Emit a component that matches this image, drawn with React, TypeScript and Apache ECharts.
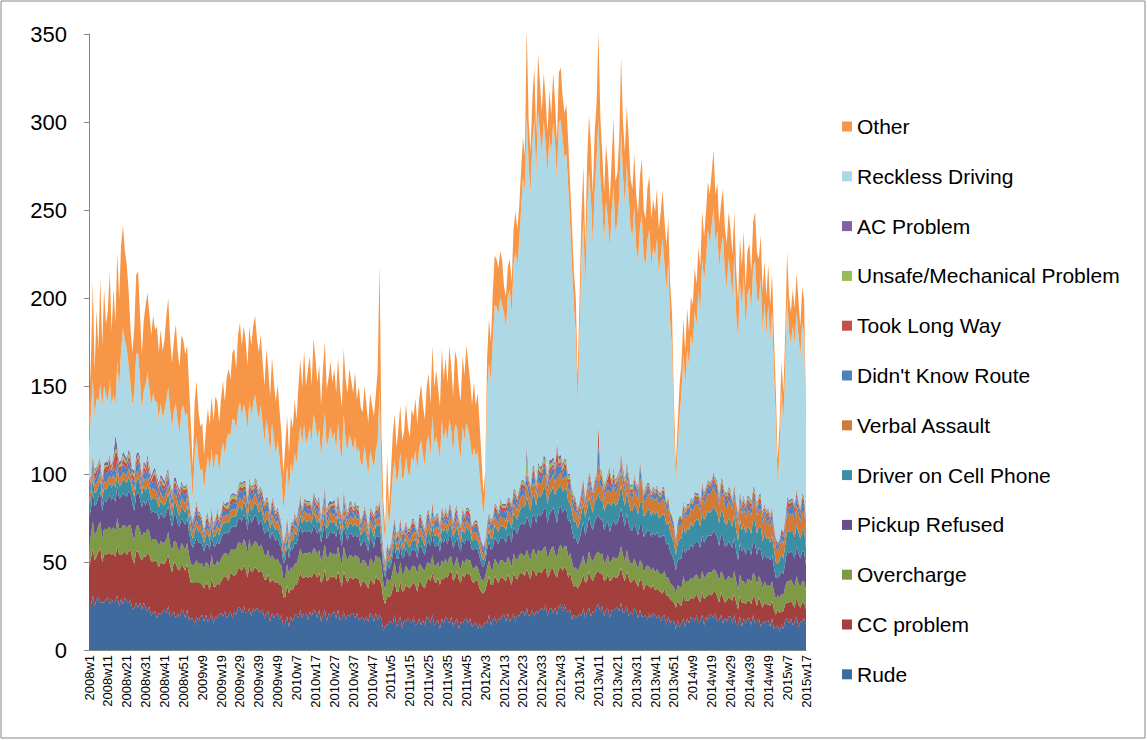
import React, { useEffect, useRef } from "react";
import * as echarts from "echarts";

// Week labels 2008w1 .. 2015w17 (52 weeks per year, as on the axis)
function buildWeeks(): string[] {
  const out: string[] = [];
  for (let y = 2008; y <= 2015; y++) {
    const last = y === 2015 ? 17 : 52;
    for (let w = 1; w <= last; w++) out.push(`${y}w${w}`);
  }
  return out;
}
const weeks = buildWeeks();

const rude = [
  24,25,31,25,29,30,27,27,27,29, 30,26,29,27,28,31,25,29,26,30, 28,26,29,23,24,27,24,27,23,27,
  24,22,25,19,22,22,18,21,20,22, 23,21,25,19,20,22,18,21,18,23, 22,18,23,17,18,18,14,19,16,19,
  20,16,20,16,18,21,15,19,18,20, 21,19,22,18,20,22,18,22,20,24, 24,21,25,21,21,24,19,24,22,24,
  23,21,23,18,21,22,16,21,18,20, 21,17,20,13,16,19,13,19,16,20, 20,18,23,18,21,21,17,22,19,23,
  22,18,23,16,20,23,16,21,19,21, 22,18,23,17,18,22,17,20,19,21, 21,18,21,17,18,19,16,19,16,21,
  20,16,21,17,20,18,11,14,14,16, 16,15,20,13,16,19,12,17,16,18, 17,15,19,14,15,18,14,17,14,19,
  18,15,20,14,16,17,12,18,15,19, 17,15,19,13,16,18,12,16,15,17, 18,15,18,13,15,16,12,15,12,14,
  16,15,20,14,17,19,15,18,17,20, 20,16,21,16,18,21,16,20,19,22, 22,19,24,19,20,23,19,22,21,23,
  24,22,26,19,23,24,21,24,20,25, 26,22,26,22,22,23,17,20,18,19, 21,19,24,18,22,24,19,22,21,25,
  26,22,25,19,23,24,18,23,22,24, 24,22,27,21,22,25,19,22,20,24, 22,18,23,19,19,20,17,21,18,21,
  20,18,20,16,19,20,14,19,15,17, 17,12,17,13,15,18,13,18,15,19, 18,16,20,15,17,20,14,19,17,20,
  20,18,21,16,17,20,15,18,16,19, 19,15,20,14,15,19,13,18,15,18, 18,14,20,15,16,18,13,16,15,17,
  17,13,18,12,13,14,10,15,12,17, 18,15,18,14,16,19,13,16,16,18,14
];
const ccProblem = [
  23,27,27,26,24,26,31,23,27,25, 25,29,25,28,25,28,29,25,29,26, 26,30,28,29,25,29,32,26,28,26,
  29,33,29,31,28,29,32,26,30,27, 26,30,29,29,24,28,31,25,27,26, 25,27,26,26,20,20,24,20,22,19,
  17,19,18,21,16,20,21,17,20,17, 18,22,20,23,19,22,25,20,23,22, 22,24,23,25,20,24,25,21,25,22,
  21,24,21,22,19,21,22,19,21,18, 18,20,17,17,14,18,19,16,18,17, 17,22,21,23,20,21,24,20,22,21,
  21,23,21,22,20,23,23,19,23,20, 20,22,22,23,18,23,24,18,22,20, 19,23,20,23,18,20,23,18,19,19,
  19,21,21,23,20,19,18,12,17,14, 15,20,19,20,17,20,21,17,21,18, 18,22,19,23,18,21,24,19,21,20,
  23,24,24,25,22,24,25,23,25,23, 24,29,26,26,25,27,28,22,28,24, 26,28,25,26,23,24,27,20,21,18,
  18,23,22,23,20,23,25,20,24,21, 20,23,22,24,19,23,25,20,24,22, 21,23,22,24,20,23,26,20,24,21,
  20,24,21,22,20,22,25,19,21,21, 21,23,21,24,19,21,22,16,19,16, 16,20,19,20,17,21,22,17,21,19,
  19,21,19,20,17,19,21,17,20,17, 17,21,20,21,17,20,22,16,19,17, 16,18,17,20,15,17,20,15,17,16,
  14,17,14,17,13,15,17,12,14,11, 10,12,11,13,10,13,15,10,13,11, 11,14,12,14,10,13,15,11,14,12,
  11,15,12,14,10,13,15,9,12,11, 10,13,12,13,8,12,14,9,11,10, 10,12,11,14,9,12,14,8,12,9,
  9,12,10,11,7,9,11,7,10,9, 9,12,10,12,8,11,13,8,11,9,9
];
const overcharge = [
  12,13,15,14,14,15,15,13,15,14, 14,15,14,15,14,16,15,15,16,15, 15,15,14,14,13,14,15,15,13,14,
  13,14,13,12,13,12,12,12,12,12, 12,12,13,12,12,12,13,12,11,12, 12,12,12,11,11,10,11,12,11,11,
  12,11,12,12,12,13,12,12,13,12, 13,13,13,14,14,13,14,15,14,15, 15,14,15,15,14,15,14,15,15,15,
  14,15,14,14,14,14,13,14,13,13, 13,12,11,10,11,12,11,12,12,12, 12,13,14,13,14,13,14,14,13,14,
  14,13,13,12,14,14,13,13,14,13, 13,13,14,13,12,14,13,13,13,13, 12,13,12,13,12,12,12,12,11,12,
  12,11,12,12,13,11,9,8,10,9, 9,10,11,10,10,11,10,10,11,10, 9,10,10,10,10,10,10,10,10,10,
  9,9,10,9,10,9,9,10,9,10, 8,9,8,8,8,8,8,8,8,8, 8,8,8,8,8,8,8,8,7,7,
  8,9,9,9,9,10,10,10,10,10, 10,10,10,11,10,11,11,11,11,11, 11,11,11,11,11,11,12,11,12,12,
  12,12,12,11,12,12,13,12,11,12, 13,12,12,13,12,11,11,10,10,10, 10,11,11,10,11,11,11,11,11,11,
  11,11,11,10,11,11,10,11,11,11, 11,11,12,12,11,12,11,11,10,11, 11,10,11,11,10,10,11,11,10,10,
  10,11,10,10,11,10,10,10,9,9, 9,8,9,10,10,11,10,11,11,11, 11,12,11,12,12,12,12,12,13,12,
  13,13,12,13,12,12,13,12,12,12, 12,12,13,12,11,12,12,12,11,12, 12,12,13,13,12,12,13,11,12,11,
  11,11,11,10,9,8,9,10,9,10, 12,12,12,12,12,12,12,12,12,12,11
];
const pickupRefused = [
  16,15,17,17,16,16,17,16,16,16, 17,18,17,18,17,18,17,18,18,17, 18,19,18,17,17,18,19,18,17,18,
  16,17,16,16,16,15,16,15,16,15, 14,15,15,15,14,14,15,14,14,14, 14,14,14,13,12,10,12,13,12,12,
  11,10,10,11,11,11,11,11,11,11, 11,12,11,12,13,12,13,13,13,13, 14,14,14,14,13,14,14,14,15,14,
  13,14,13,12,13,12,12,13,12,11, 12,11,10,9,10,11,9,11,11,12, 11,12,12,12,13,12,12,12,12,13,
  12,12,12,11,12,13,11,12,12,12, 12,11,12,12,11,12,12,11,12,12, 12,12,11,12,11,10,12,11,10,12,
  11,10,11,12,12,10,8,7,8,7, 8,9,9,9,9,9,9,9,10,9, 9,10,9,10,9,10,11,10,9,11,
  12,11,12,11,11,11,10,12,12,12, 11,12,11,11,12,11,11,10,12,11, 12,11,11,10,11,10,10,10,9,8,
  8,10,11,11,12,12,12,12,13,12, 13,12,13,14,14,15,16,15,16,17, 18,18,19,19,18,19,20,19,21,20,
  21,22,22,20,22,21,22,22,20,22, 22,21,21,21,20,19,18,17,17,15, 16,18,19,17,19,20,19,18,20,20,
  21,20,20,19,20,19,18,20,21,19, 20,21,22,21,20,21,20,19,19,20, 20,19,20,21,20,19,20,21,19,20,
  21,21,20,21,22,20,19,20,18,17, 15,13,14,16,17,18,17,18,18,19, 18,19,19,20,19,20,20,21,21,21,
  21,22,21,21,20,21,21,20,19,20, 19,18,19,17,17,18,17,19,17,18, 17,16,18,18,17,16,17,16,16,15,
  16,15,15,14,12,10,12,13,12,14, 17,16,16,17,16,17,17,16,17,17,14
];
const cellPhone = [
  7,7,8,7,7,6,7,7,7,7, 7,7,7,8,8,7,7,7,8,8, 8,8,7,8,8,7,8,8,7,8,
  8,8,7,7,8,8,7,7,7,7, 7,7,7,7,6,7,7,7,6,7, 7,7,7,7,6,5,6,6,6,6,
  5,5,5,6,5,6,5,6,6,5, 6,6,6,6,6,6,6,6,6,6, 7,6,7,7,6,7,7,7,7,7,
  7,7,6,6,7,6,6,6,6,6, 6,6,5,4,5,5,5,5,5,6, 5,6,6,6,7,6,6,6,6,7,
  6,6,6,6,6,6,6,6,6,6, 6,6,6,6,6,6,6,6,6,6, 6,6,6,6,6,6,6,6,6,6,
  6,6,6,6,7,5,4,3,4,4, 4,5,5,5,5,5,5,5,5,5, 5,5,5,6,5,5,6,6,5,6,
  6,5,6,6,6,5,5,6,6,6, 6,6,6,6,6,6,6,5,6,6, 6,6,6,5,6,5,5,5,4,4,
  4,6,6,6,6,7,7,7,7,7, 7,7,8,8,8,8,8,8,8,9, 10,10,11,10,10,11,11,10,11,11,
  11,12,11,11,12,11,12,11,19,12, 12,12,11,12,11,10,10,10,9,9, 9,10,10,10,11,11,11,10,11,11,
  12,11,11,11,11,11,16,11,12,11, 11,12,13,12,12,12,12,11,11,11, 12,12,13,13,12,11,12,12,12,12,
  12,12,11,12,12,12,11,12,11,10, 10,9,10,11,11,11,11,12,11,12, 12,12,12,13,12,13,13,13,14,13,
  14,14,13,14,13,13,14,13,12,13, 13,12,13,12,11,13,12,13,12,12, 12,12,13,13,12,12,13,11,12,11,
  11,10,11,10,9,8,9,10,9,10, 12,12,11,12,12,12,12,11,12,12,10
];
const verbalAssault = [
  4,4,4,4,5,4,4,4,4,4, 4,4,5,4,4,4,5,4,4,4, 4,5,4,3,4,5,4,4,3,5,
  5,5,5,5,5,5,5,4,5,4, 5,5,5,5,5,5,5,5,5,5, 5,5,5,5,4,4,4,4,4,4,
  3,3,3,3,3,3,3,3,3,3, 3,4,4,4,4,4,4,4,4,4, 5,5,4,5,5,4,5,5,5,4,
  4,5,3,4,5,4,3,4,5,4, 4,4,4,3,4,4,3,4,4,4, 4,5,4,3,4,5,4,4,3,5,
  4,3,5,4,4,5,3,4,5,4, 5,4,4,3,4,5,4,4,3,4, 4,5,4,4,3,4,5,4,3,4,
  4,4,4,4,4,4,3,3,3,3, 3,4,4,3,4,4,3,4,4,4, 4,3,5,4,4,5,4,3,4,5,
  5,4,4,3,5,4,4,5,4,3, 4,5,4,3,4,5,4,4,5,3, 4,4,4,4,4,4,4,4,4,3,
  3,4,4,4,5,5,5,5,5,5, 5,5,5,5,5,5,6,5,6,6, 6,6,7,6,6,7,7,6,7,7,
  7,7,7,7,7,7,7,7,7,7, 7,7,7,7,7,7,6,6,6,6, 6,6,7,6,7,7,7,6,7,7,
  16,8,7,7,8,7,7,7,8,7, 8,8,8,8,8,8,8,8,7,8, 8,8,14,9,8,8,8,9,8,8,
  8,8,8,8,9,8,8,8,8,8, 7,6,7,8,8,8,8,8,8,9, 9,9,9,9,9,10,9,10,10,10,
  11,11,10,10,10,10,10,10,10,10, 10,10,10,9,9,10,9,10,9,10, 10,10,10,11,10,10,10,10,10,9,
  10,9,9,9,8,7,8,8,8,9, 11,10,10,11,10,11,11,10,11,11,10
];
const didntKnowRoute = [
  4,3,5,3,4,5,3,4,4,5, 4,5,3,5,5,4,3,4,5,4, 4,5,4,3,4,5,5,4,3,4,
  4,5,3,4,4,5,3,4,5,4, 4,3,5,4,4,3,4,5,4,4, 4,5,3,4,4,3,4,5,4,3,
  3,2,4,3,3,4,2,3,4,3, 3,4,3,2,3,4,3,4,3,4, 4,5,3,4,4,5,4,3,4,5,
  4,3,5,4,4,3,3,5,4,3, 3,4,2,3,3,4,3,2,3,4, 3,2,4,3,3,4,3,2,4,3,
  3,4,3,2,3,4,3,3,2,4, 3,3,4,2,3,4,3,2,3,4, 3,4,3,2,3,3,4,3,2,3,
  3,4,3,3,4,3,2,2,3,2, 2,3,4,3,2,3,4,3,3,2, 3,4,3,2,3,4,3,3,2,4,
  3,2,4,3,3,4,3,4,2,3, 3,4,3,2,4,3,3,2,4,3, 3,4,3,2,3,3,4,3,2,3,
  3,2,3,4,3,3,4,3,4,4, 4,5,3,4,4,5,4,3,4,5, 4,3,5,4,4,5,4,3,5,4,
  4,5,4,3,4,5,4,4,9,5, 4,3,5,4,4,3,3,4,3,2, 3,4,3,2,3,4,3,3,2,4,
  11,4,3,3,2,4,3,3,4,3, 3,2,4,3,3,4,3,2,3,4, 3,4,7,2,3,4,3,3,2,3,
  3,3,4,2,3,4,3,3,2,3, 3,2,3,4,3,3,2,3,4,3, 3,4,3,2,3,4,3,3,4,3,
  3,4,3,3,2,4,3,3,4,3, 3,2,4,3,3,4,3,2,3,4, 3,4,3,2,3,4,3,3,2,3,
  3,3,4,2,3,3,2,3,4,3, 4,3,5,4,4,5,3,4,5,4,4
];
const tookLongWay = [
  3,2,3,4,3,2,3,2,3,4, 3,4,2,3,11,4,3,2,3,3, 3,2,4,3,3,2,3,4,3,3,
  3,4,3,2,3,4,3,3,2,3, 2,3,2,1,2,3,2,2,3,2, 2,3,2,2,1,2,2,3,2,2,
  2,1,2,3,2,2,1,2,3,2, 2,3,2,1,2,2,3,2,2,2, 2,3,2,2,1,2,3,2,2,2,
  2,2,3,2,1,2,2,3,2,2, 2,1,2,1,1,2,1,1,2,1, 1,2,2,1,2,1,2,3,1,2,
  2,3,2,1,2,2,3,2,1,2, 2,1,2,3,2,2,1,2,3,2, 2,2,3,2,1,1,2,3,1,2,
  2,3,2,2,3,1,1,1,1,1, 2,1,2,1,2,3,1,2,2,1, 2,3,2,1,2,2,3,2,2,1,
  2,2,3,2,1,2,2,3,2,2, 2,1,2,2,3,2,1,2,2,3, 2,3,2,2,1,2,1,1,2,1,
  1,2,2,1,2,3,2,2,3,2, 2,3,2,2,3,2,2,3,2,2, 2,3,2,3,2,2,3,2,2,3,
  2,3,2,2,3,2,2,3,8,2, 2,2,3,2,2,3,2,2,2,2, 2,2,3,2,2,2,3,2,2,2,
  11,3,2,2,2,3,8,2,3,2, 2,2,3,2,2,2,3,2,2,2, 1,2,2,2,1,1,2,1,2,1,
  1,2,1,1,2,1,1,2,1,1, 1,1,2,1,1,1,2,1,1,1, 1,2,1,2,2,2,2,2,2,2,
  2,2,3,2,2,2,2,3,2,2, 2,2,2,3,2,2,2,2,3,2, 2,3,2,2,2,2,3,2,2,2,
  2,2,2,2,2,1,1,2,2,2, 2,3,2,2,3,3,2,2,3,2,2
];
const unsafeMechanical = [
  1,2,1,2,1,2,1,1,2,1, 1,2,1,2,2,2,1,2,2,2, 1,2,1,1,2,1,1,2,1,1,
  1,1,2,1,1,2,1,1,1,2, 1,2,1,1,1,2,1,1,1,1, 1,1,2,1,1,1,1,2,1,1,
  1,1,1,2,1,1,1,1,2,1, 1,1,1,2,2,2,2,2,2,2, 2,2,2,2,2,2,1,2,2,2,
  2,1,1,1,2,1,1,1,2,1, 1,1,1,1,1,1,1,1,1,1, 1,1,2,1,1,1,2,1,1,1,
  1,1,1,2,1,1,1,2,1,1, 1,2,1,1,1,2,1,1,1,2, 1,1,1,2,1,1,1,1,2,1,
  1,1,2,1,1,1,1,1,1,0, 1,1,1,1,2,1,1,1,1,1, 1,1,2,1,1,1,1,2,1,1,
  1,1,1,1,2,1,1,1,1,2, 1,1,1,1,1,2,1,1,1,1, 1,1,1,1,1,1,1,0,0,0,
  1,1,1,1,1,1,1,1,2,1, 1,1,2,1,1,1,2,1,1,1, 2,1,8,2,2,2,2,2,2,2,
  2,2,2,2,3,2,2,2,2,2, 2,2,2,2,2,2,2,2,1,1, 1,1,2,1,1,1,2,1,1,1,
  2,2,2,2,2,2,2,2,2,2, 2,2,2,2,2,2,2,2,2,2, 1,1,1,1,1,2,1,1,1,1,
  1,1,1,1,1,1,1,1,1,1, 1,1,1,1,1,1,1,1,1,1, 1,1,1,1,1,1,1,1,1,1,
  1,1,2,2,2,2,2,1,1,2, 2,1,2,1,1,1,1,2,1,1, 2,1,2,2,2,1,2,1,1,1,
  1,1,1,0,0,0,0,0,0,0, 1,1,1,1,1,1,1,1,1,1,1
];
const acProblem = [
  2,1,1,1,1,1,1,1,1,2, 2,1,2,2,8,2,2,2,2,2, 2,2,2,2,2,3,2,2,2,2,
  2,2,2,2,2,2,2,2,2,2, 2,2,2,2,2,2,2,2,2,2, 1,1,1,1,1,1,1,1,1,1,
  1,1,1,1,1,1,1,1,1,1, 1,1,1,2,1,1,1,1,1,1, 1,1,1,1,1,1,1,1,1,1,
  1,1,1,1,1,1,1,1,1,1, 1,1,1,1,1,1,1,1,1,1, 1,1,1,1,1,1,1,1,1,1,
  2,1,2,1,2,2,1,2,2,1, 2,1,2,1,1,2,2,1,2,1, 1,1,1,1,1,1,1,1,1,1,
  1,1,1,1,1,1,1,0,1,1, 1,1,1,1,1,1,1,1,1,1, 1,1,1,1,1,1,1,1,1,1,
  1,1,1,1,1,1,1,1,1,1, 1,1,1,1,1,1,1,1,1,1, 1,1,1,0,1,1,1,1,1,1,
  1,1,1,1,1,1,1,1,1,1, 1,1,1,1,1,1,1,1,1,1, 1,1,7,1,1,1,1,1,2,1,
  2,2,2,2,2,2,2,2,2,2, 2,2,1,1,1,1,1,1,1,1, 1,1,1,1,1,1,1,1,1,1,
  1,1,1,1,1,1,1,1,1,1, 1,1,2,2,1,2,1,1,1,1, 1,1,1,1,1,1,1,1,1,1,
  1,1,1,1,1,1,0,1,0,0, 0,0,0,0,0,1,1,1,1,1, 1,1,1,1,1,1,1,1,1,1,
  1,1,1,1,1,1,1,1,1,1, 1,1,1,1,1,1,1,1,1,1, 1,1,1,1,1,1,1,1,1,1,
  1,1,1,1,1,1,1,1,1,1, 1,1,1,1,1,1,1,1,1,1,1
];
const recklessDriving = [
  20,35,42,30,39,34,42,40,44,38, 34,42,34,33,16,48,42,62,70,65, 62,48,40,36,44,57,56,45,36,39,
  46,47,43,40,44,37,42,36,40,34, 40,42,45,42,36,38,42,36,32,40, 46,40,40,32,25,12,32,36,30,24,
  28,22,26,32,30,32,30,36,30,26, 32,33,28,36,39,34,42,42,37,43, 45,38,44,39,38,44,40,46,47,41,
  40,46,39,34,44,38,32,42,36,32, 38,32,25,18,24,28,24,34,28,34, 31,35,38,36,42,32,36,42,36,44,
  42,36,38,32,39,42,35,36,42,36, 38,32,39,34,32,42,36,35,38,34, 32,36,30,33,32,28,34,30,28,32,
  30,26,30,38,64,25,14,10,26,12, 22,30,32,29,32,36,30,30,36,32, 30,36,32,41,34,38,42,38,36,40,
  42,36,48,42,44,38,36,48,42,45, 42,48,44,38,48,44,40,38,45,42, 48,44,40,38,42,36,40,32,26,17,
  26,73,84,78,100,112,113,112,114,113, 108,100,114,119,108,127,135,132,140,154, 172,166,188,177,166,185,196,174,199,190,
  178,190,179,172,184,174,190,182,148,190, 190,184,171,174,163,142,126,107,94,58, 96,130,146,117,154,170,159,140,164,178,
  171,165,152,138,158,144,124,152,160,140, 144,156,182,166,155,168,158,146,141,152, 134,128,131,148,133,126,138,144,128,136,
  132,140,124,135,141,127,121,132,108,94, 53,31,40,56,70,83,70,88,78,92, 88,102,96,115,107,126,120,128,142,136,
  144,150,134,142,128,131,139,125,117,130, 122,114,128,106,98,117,111,125,100,114, 119,108,125,130,116,110,122,102,114,100,
  115,99,110,88,66,32,51,78,62,86, 114,96,88,98,91,100,94,86,97,92,44
];
const other = [
  20,30,55,26,50,30,60,35,55,40, 52,62,42,60,48,62,50,60,58,51, 48,42,32,30,37,45,46,37,32,40,
  45,45,43,40,44,41,43,38,42,38, 40,48,51,40,37,40,45,40,38,43, 37,35,38,32,25,18,30,32,27,25,
  26,20,24,27,26,30,28,33,30,28, 32,35,30,35,37,32,38,40,35,43, 45,40,44,41,37,42,40,44,45,40,
  38,40,35,32,40,36,33,37,32,30, 32,27,25,20,26,28,22,27,25,30, 25,33,38,32,42,33,38,40,32,43,
  37,32,36,30,37,40,33,35,37,32, 36,33,37,34,30,37,35,33,38,34, 33,37,30,35,32,30,34,32,30,33,
  30,30,32,40,70,25,13,8,22,12, 18,24,26,20,26,27,22,25,30,26, 22,27,26,30,26,28,32,28,26,32,
  35,30,40,32,38,33,30,40,35,40, 32,42,36,33,42,38,34,32,40,37, 44,38,34,30,37,29,33,30,22,13,
  12,20,25,23,27,28,27,26,27,25, 15,18,17,17,18,20,23,20,20,22, 22,20,50,25,23,25,30,23,33,28,
  23,27,25,23,26,22,28,24,22,28, 30,25,25,28,25,22,22,20,20,17, 20,25,30,25,30,32,30,28,33,32,
  50,35,30,28,32,30,27,30,38,29, 28,32,42,30,30,33,32,28,27,30, 30,27,29,32,27,26,30,30,27,27,
  26,28,25,25,27,25,25,25,22,20, 15,10,15,18,17,20,20,23,20,22, 23,25,23,25,25,27,25,28,27,28,
  30,33,27,27,25,25,27,25,25,26, 26,25,25,25,22,25,23,25,23,25, 25,22,25,28,26,24,25,23,24,22,
  23,20,22,20,18,15,15,17,17,20, 25,20,18,21,20,22,20,17,20,20,15
];

const seriesNames = [
  "Rude", "CC problem", "Overcharge", "Pickup Refused", "Driver on Cell Phone",
  "Verbal Assault", "Didn't Know Route", "Took Long Way", "Unsafe/Mechanical Problem",
  "AC Problem", "Reckless Driving", "Other",
];
const seriesData = [
  rude, ccProblem, overcharge, pickupRefused, cellPhone, verbalAssault,
  didntKnowRoute, tookLongWay, unsafeMechanical, acProblem, recklessDriving, other,
];
const seriesColors = [
  "#3F6A9E", "#A33F3D", "#7E9A47", "#65508A", "#3A8FA5", "#D07B38",
  "#4F81BD", "#C4504E", "#9BBB59", "#8064A2", "#ADD8E6", "#F79646",
];
const yTicks = { min: 0, max: 350, interval: 50 };

const FONT = "'Liberation Sans', Arial, sans-serif";

export default function App() {
  const ref = useRef<HTMLDivElement>(null);
  useEffect(() => {
    if (!ref.current) return;
    const chart = echarts.init(ref.current, undefined, { renderer: "svg" });
    chart.setOption({
      animation: false,
      backgroundColor: "#ffffff",
      grid: { left: 89, right: 341, top: 34, bottom: 90, containLabel: false },
      xAxis: {
        type: "category",
        data: weeks,
        boundaryGap: false,
        axisLine: { show: true, lineStyle: { color: "#868686", width: 1 } },
        axisTick: { show: false },
        axisLabel: {
          interval: 9,
          rotate: 90,
          fontSize: 13,
          color: "#000",
          fontFamily: FONT,
          margin: 5,
        },
      },
      yAxis: {
        type: "value",
        min: yTicks.min,
        max: yTicks.max,
        interval: yTicks.interval,
        splitLine: { show: false },
        axisLine: { show: true, lineStyle: { color: "#868686", width: 1 } },
        axisTick: { show: true, length: 5, lineStyle: { color: "#868686" } },
        axisLabel: { fontSize: 22, color: "#000", fontFamily: FONT, margin: 22 },
      },
      legend: {
        orient: "vertical",
        left: 837,
        top: 111,
        itemWidth: 10,
        itemHeight: 10,
        itemGap: 28.8,
        icon: "rect",
        textStyle: { fontSize: 21, color: "#000", fontFamily: FONT },
        data: [...seriesNames].reverse(),
        selectedMode: false,
      },
      graphic: [
        {
          type: "rect",
          shape: { x: 1, y: 1, width: 1144, height: 737 },
          style: { fill: "none", stroke: "#868686", lineWidth: 1 },
          silent: true,
        },
      ],
      series: seriesNames.map((name, i) => ({
        name,
        type: "line",
        stack: "total",
        data: seriesData[i],
        symbol: "none",
        showSymbol: false,
        lineStyle: { width: 0 },
        itemStyle: { color: seriesColors[i] },
        areaStyle: { color: seriesColors[i], opacity: 1 },
        emphasis: { disabled: true },
        silent: true,
      })),
    });
    return () => chart.dispose();
  }, []);
  return (
    <div
      ref={ref}
      style={{ position: "fixed", left: 0, top: 0, width: 1147, height: 740 }}
    />
  );
}
